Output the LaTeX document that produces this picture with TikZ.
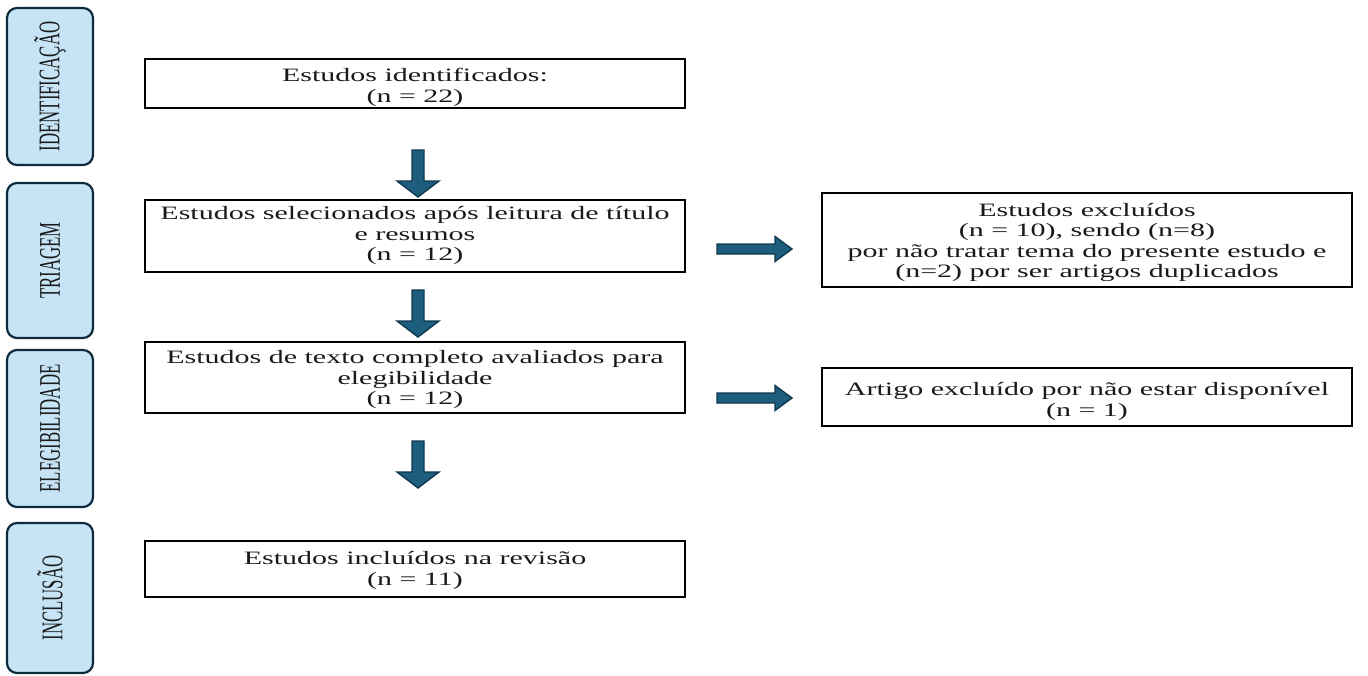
\documentclass[tikz,border=0pt]{standalone}
\usepackage{fontspec}
\setmainfont{Liberation Serif}
\usepackage{graphicx}

\definecolor{stagefill}{HTML}{C6E4F5}
\definecolor{stageline}{HTML}{0E2B3D}
\definecolor{arrowfill}{HTML}{1D5E7F}
\definecolor{arrowline}{HTML}{10384F}
\definecolor{inktext}{HTML}{1A1A1A}

% horizontal text, squeezed vertically
\newcommand{\flowtext}[1]{\scalebox{1}[0.63]{\fontsize{30}{32}\selectfont\begin{tabular}{@{}c@{}}#1\end{tabular}}}
% vertical stage label, read from bottom to top
\newcommand{\stagetext}[1]{\scalebox{1}[0.56]{\rotatebox{90}{\fontsize{30}{31}\selectfont #1}}}

\tikzset{
  stagebox/.style={draw=stageline, fill=stagefill, line width=2.2pt,
    rounded corners=10pt, minimum width=86pt, inner sep=0pt, text=inktext},
  flowbox/.style={draw=black, fill=white, line width=1.8pt,
    inner sep=0pt, text=inktext},
  % box text, set a little below the box centre
  boxtext/.style 2 args={label={[text=inktext, inner sep=0pt, yshift=-#1pt]center:\flowtext{#2}}},
  arrowbody/.style={draw=arrowline, fill=arrowfill, line width=1.4pt, line join=miter},
  downarrow/.pic={\path[arrowbody] (-6,0) -- (6,0) -- (6,31) -- (21,31) -- (0,47)
      -- (-21,31) -- (-6,31) -- cycle;},
  rightarrow/.pic={\path[arrowbody] (0,-5) -- (58,-5) -- (58,-12.5) -- (75,0)
      -- (58,12.5) -- (58,5) -- (0,5) -- cycle;}
}

\begin{document}
\begin{tikzpicture}[x=1pt, y=-1pt]
\useasboundingbox (0,0) rectangle (1368,675);

% stage column
\node[stagebox, minimum height=157pt] (sident) at (50,86.5) {\stagetext{IDENTIFICAÇÃO}};
\node[stagebox, minimum height=155pt] (striag) at (50,260.5) {\stagetext{TRIAGEM}};
\node[stagebox, minimum height=157pt] (selig) at (50,428.5) {\stagetext{ELEGIBILIDADE}};
\node[stagebox, minimum height=150pt] (sincl) at (50,598) {\stagetext{INCLUSÃO}};

% main flow
\node[flowbox, minimum width=540pt, minimum height=49pt,
  boxtext={4.5}{Estudos identificados:\\(n = 22)}] (ident) at (415,83.5) {};
\node[flowbox, minimum width=540pt, minimum height=72pt,
  boxtext={0}{Estudos selecionados após leitura de título\\e resumos\\(n = 12)}] (triag) at (415,236) {};
\node[flowbox, minimum width=540pt, minimum height=71pt,
  boxtext={2.5}{Estudos de texto completo avaliados para\\elegibilidade\\(n = 12)}] (elig) at (415,377.5) {};
\node[flowbox, minimum width=540pt, minimum height=56pt,
  boxtext={2}{Estudos incluídos na revisão\\(n = 11)}] (incl) at (415,569) {};

% exclusions
\node[flowbox, minimum width=530pt, minimum height=94pt,
  boxtext={3}{Estudos excluídos\\(n = 10), sendo (n=8)\\por não tratar tema do presente estudo e\\(n=2) por ser artigos duplicados}] (excl) at (1087,240) {};
\node[flowbox, minimum width=530pt, minimum height=58pt,
  boxtext={5}{Artigo excluído por não estar disponível\\(n = 1)}] (unav) at (1087,397) {};

% block arrows
\pic at (418,150) {downarrow};
\pic at (418,290) {downarrow};
\pic at (418,441) {downarrow};
\pic at (717,249) {rightarrow};
\pic at (717,398) {rightarrow};
\end{tikzpicture}
\end{document}
